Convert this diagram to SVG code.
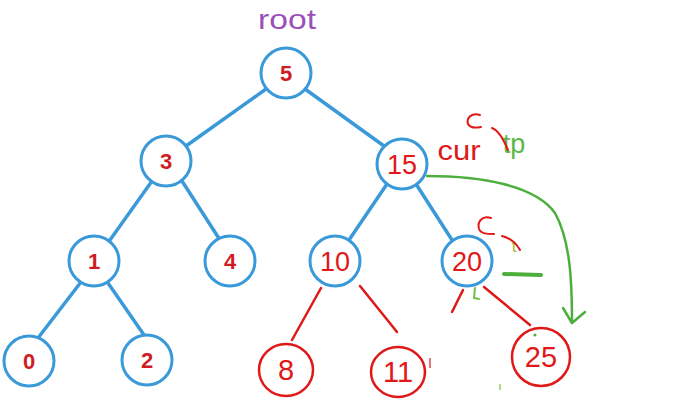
<svg xmlns="http://www.w3.org/2000/svg" width="676" height="412" viewBox="0 0 676 412">
<style>
.bn{fill:#fff;stroke:#3a9ad9;stroke-width:3}
.rn{fill:#fff;stroke:#e01818;stroke-width:2.5}
.be{stroke:#3a9ad9;stroke-width:3.5;fill:none;stroke-linecap:round}
.re{stroke:#e01818;stroke-width:2.5;fill:none;stroke-linecap:round}
.g{stroke:#4caf3c;fill:none;stroke-linecap:round;stroke-linejoin:round}
.bt{font-family:"Liberation Sans",Arial,sans-serif;font-weight:bold;font-size:22px;fill:#d01c24;text-anchor:middle}
.rt{font-family:"Liberation Sans",Arial,sans-serif;font-size:27px;fill:#e01818;text-anchor:middle}
.rt2{font-family:"Liberation Sans",Arial,sans-serif;font-size:29px;fill:#e01818;text-anchor:middle}
</style>
<rect width="676" height="412" fill="#fff"/>
<g id="connectors">
<line class="be" x1="266" y1="89" x2="186" y2="146"/>
<line class="be" x1="305" y1="89" x2="384" y2="146"/>
<line class="be" x1="152" y1="181" x2="110" y2="240"/>
<line class="be" x1="182" y1="181" x2="220" y2="240"/>
<line class="be" x1="81" y1="282" x2="38" y2="338"/>
<line class="be" x1="108" y1="283" x2="144" y2="335"/>
<line class="be" x1="387" y1="184" x2="349" y2="240"/>
<line class="be" x1="416" y1="184" x2="452" y2="240"/>
<line class="re" x1="321" y1="288" x2="292" y2="340"/>
<line class="re" x1="360" y1="286" x2="397" y2="332"/>
<line class="re" x1="463" y1="290" x2="452" y2="312"/>
<line class="re" x1="484" y1="287" x2="530" y2="325"/>
<path class="g" stroke-width="2.5" d="M427,176 C480,176 535,185 555,213 C570,240 572,280 572,322"/>
<path class="g" stroke-width="2.5" d="M563,308 L572,323 L585,312"/>
</g>
<g id="n5"><circle class="bn" cx="286" cy="73" r="25"/><text class="bt" x="286" y="81">5</text></g>
<g id="n3"><circle class="bn" cx="166" cy="161" r="25"/><text class="bt" x="166" y="169">3</text></g>
<g id="n15"><circle class="bn" cx="402" cy="164" r="25"/><text class="rt" x="402" y="174">15</text></g>
<g id="n1"><circle class="bn" cx="94" cy="261" r="25"/><text class="bt" x="94" y="269">1</text></g>
<g id="n4"><circle class="bn" cx="230" cy="261" r="25"/><text class="bt" x="230" y="269">4</text></g>
<g id="n10"><circle class="bn" cx="335" cy="261" r="25"/><text class="rt" x="335" y="271">10</text></g>
<g id="n20"><circle class="bn" cx="467" cy="261" r="25"/><text class="rt" x="467" y="271">20</text></g>
<g id="n0"><circle class="bn" cx="29" cy="361" r="25"/><text class="bt" x="29" y="369">0</text></g>
<g id="n2"><circle class="bn" cx="147" cy="360" r="25"/><text class="bt" x="147" y="368">2</text></g>
<g id="n8"><ellipse class="rn" cx="286" cy="370" rx="27" ry="26"/><text class="rt2" x="286" y="380">8</text></g>
<g id="n11"><ellipse class="rn" cx="398" cy="372" rx="27" ry="25"/><text class="rt2" x="398" y="382">11</text></g>
<g id="n25"><circle class="rn" cx="541" cy="357" r="29"/><text class="rt2" x="541" y="367">25</text></g>
<g id="labels">
<text x="287" y="29" font-family="'Liberation Sans',Arial,sans-serif" font-size="28" fill="#9b4fb8" text-anchor="middle" textLength="58" lengthAdjust="spacingAndGlyphs">root</text>
<text x="459" y="160" font-family="'Liberation Sans',Arial,sans-serif" font-size="27" fill="#e01818" text-anchor="middle" textLength="43" lengthAdjust="spacingAndGlyphs">cur</text>
<text x="514" y="153" font-family="'Liberation Sans',Arial,sans-serif" font-size="27" fill="#5cb847" text-anchor="middle">tp</text>
<text x="514" y="252" font-family="'Liberation Sans',Arial,sans-serif" font-size="17" fill="#a8b830" text-anchor="middle">t</text>
<path fill="none" stroke="#e01818" stroke-width="2" stroke-linecap="round" d="M480,115 C472,112 466,118 468,124 C470,128 476,128 481,127"/>
<path fill="none" stroke="#e01818" stroke-width="2" stroke-linecap="round" d="M492,128 C498,130 503,138 508,150"/>
<path fill="none" stroke="#e01818" stroke-width="2" stroke-linecap="round" d="M491,218 C482,215 477,222 479,229 C481,234 488,234 494,234"/>
<path fill="none" stroke="#e01818" stroke-width="2" stroke-linecap="round" d="M502,236 C510,238 516,243 520,250"/>
<line x1="504" y1="274" x2="541" y2="275" stroke="#4caf3c" stroke-width="4" stroke-linecap="round"/>
<path fill="none" stroke="#6cc04a" stroke-width="2" stroke-linecap="round" d="M475,288 L474,298 L479,299"/>
<circle cx="535" cy="335" r="1.5" fill="#4caf3c"/>
<line x1="500" y1="384" x2="500" y2="390" stroke="#8ccf70" stroke-width="1.5"/>
<line x1="430" y1="358" x2="430" y2="368" stroke="#e01818" stroke-width="1.2"/>
</g>
</svg>
